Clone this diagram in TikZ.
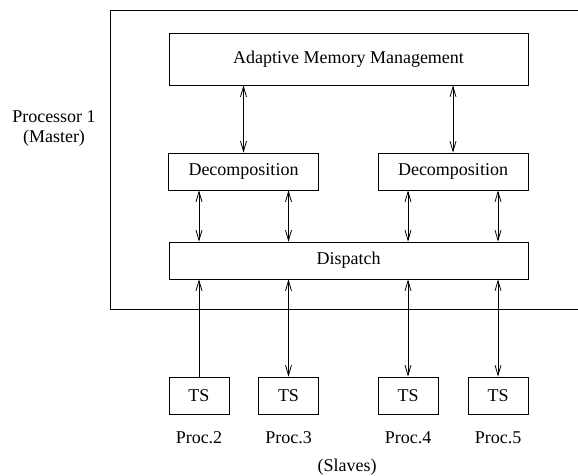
\documentclass[tikz,border=0pt]{standalone}
\usepackage{fontspec}
\setmainfont{Liberation Serif}
\usetikzlibrary{arrows.meta}

\begin{document}
\begin{tikzpicture}[x=1pt, y=-1pt, font=\fontsize{18}{20}\selectfont, line width=0.8pt,
    >={Straight Barb[length=10pt,width=6pt]},
    box/.style = {draw, rectangle, inner sep=0pt},
    wide/.style = {box, minimum width=359pt, minimum height=52pt},
    mid/.style = {box, minimum width=150pt, minimum height=37pt},
    slave/.style = {box, minimum width=60pt, minimum height=37pt}]
    \clip (0,0) rectangle (578,476);
    % master frame, cut off at the right
    \draw (600,10) -- (110,10) -- (110,309) -- (600,309);
    \node[align=center] (master) at (54,128) {Processor 1\\(Master)};
    \node[wide] (amm) at (348.5,59) {Adaptive Memory Management};
    \node[mid] (dec1) at (243.5,171.5) {Decomposition};
    \node[mid] (dec2) at (453,171.5) {Decomposition};
    \node[box, minimum width=359pt, minimum height=37pt] (disp) at (348.5,260.5) {Dispatch};
    \node[slave] (s2) at (199,395.5) {TS};
    \node[slave] (s3) at (288.5,395.5) {TS};
    \node[slave] (s4) at (408,395.5) {TS};
    \node[slave] (s5) at (498,395.5) {TS};
    \node (p2) at (199,438) {Proc.2};
    \node (p3) at (288.5,438) {Proc.3};
    \node (p4) at (408,438) {Proc.4};
    \node (p5) at (498,438) {Proc.5};
    \node (slaves) at (347,467) {(Slaves)};
    \draw[<->] (amm.south -| dec1) -- (dec1);
    \draw[<->] (amm.south -| dec2) -- (dec2);
    \draw[<->] (dec1.south -| s2) -- (disp.north -| s2);
    \draw[<->] (dec1.south -| s3) -- (disp.north -| s3);
    \draw[<->] (dec2.south -| s4) -- (disp.north -| s4);
    \draw[<->] (dec2.south -| s5) -- (disp.north -| s5);
    \draw[->] (s2) -- (disp.south -| s2);
    \draw[<->] (disp.south -| s3) -- (s3);
    \draw[<->] (disp.south -| s4) -- (s4);
    \draw[<->] (disp.south -| s5) -- (s5);
\end{tikzpicture}
\end{document}
